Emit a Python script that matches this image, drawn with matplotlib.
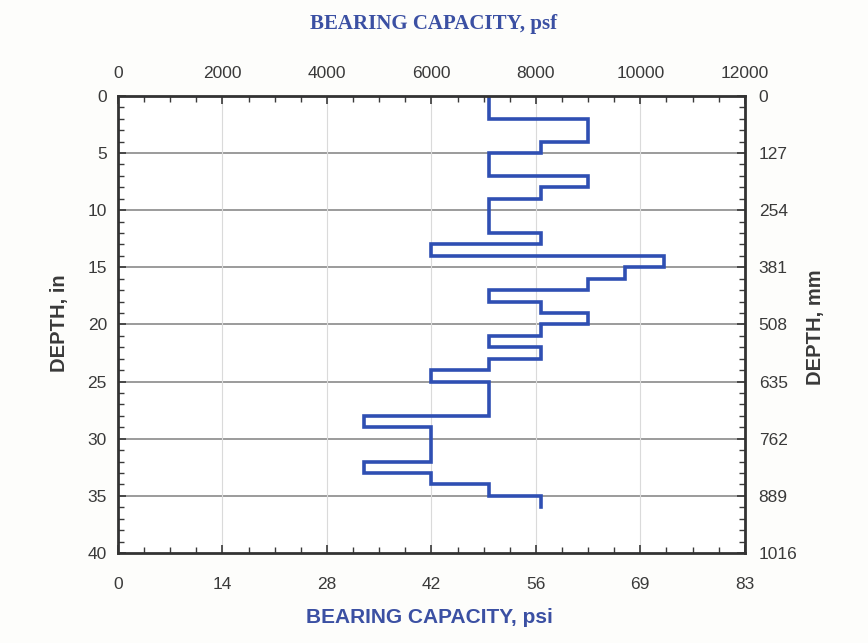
import numpy as np
import matplotlib
matplotlib.use("Agg")
import matplotlib.pyplot as plt
from matplotlib.ticker import MultipleLocator

# depth intervals (in) and bearing capacity (psf)
depth_top = [0, 2, 4, 5, 7, 8, 9, 12, 13, 14, 15, 16, 17, 18, 19, 20, 21, 22, 23, 24, 25, 28, 29, 32, 33, 34, 35]
depth_bot = [2, 4, 5, 7, 8, 9, 12, 13, 14, 15, 16, 17, 18, 19, 20, 21, 22, 23, 24, 25, 28, 29, 32, 33, 34, 35, 36]
capacity_psf = [7100, 9000, 8100, 7100, 9000, 8100, 7100, 8100, 6000, 10450, 9700, 9000, 7100, 8100,
                9000, 8100, 7100, 8100, 7100, 6000, 7100, 4700, 6000, 4700, 6000, 7100, 8100]

psf_ticks = [0, 2000, 4000, 6000, 8000, 10000, 12000]
psi_labels = ['0', '14', '28', '42', '56', '69', '83']
depth_ticks = [0, 5, 10, 15, 20, 25, 30, 35, 40]
mm_labels = ['0', '127', '254', '381', '508', '635', '762', '889', '1016']

blue = '#2f4fb3'
title_blue = '#3b50a3'
sans = ['Liberation Sans', 'DejaVu Sans']
txt = '#3a3a3a'

# step profile: each layer drawn as a vertical segment, joined horizontally
xs, ys = [], []
for top, bot, v in zip(depth_top, depth_bot, capacity_psf):
    xs += [v, v]
    ys += [top, bot]

fig = plt.figure(figsize=(8.68, 6.43), dpi=100)
fig.patch.set_facecolor('#fdfdfb')
ax = fig.add_axes([0.136, 0.140, 0.722, 0.711])

ax.plot(xs, ys, color=blue, linewidth=2.6, solid_joinstyle='miter')

ax.set_xlim(0, 12000)
ax.set_ylim(40, 0)

# grid
for d in depth_ticks[1:-1]:
    ax.axhline(d, color='#8a8a8a', linewidth=1.2, zorder=0)
for p in psf_ticks[1:-1]:
    ax.axvline(p, color='#dadada', linewidth=0.8, zorder=0)

# bottom: psi labels at psf positions
ax.set_xticks(psf_ticks)
ax.set_xticklabels(psi_labels)
ax.xaxis.set_minor_locator(MultipleLocator(500))
ax.set_yticks(depth_ticks)
ax.yaxis.set_minor_locator(MultipleLocator(1))

ax.tick_params(which='both', direction='in', top=True, right=True, colors=txt)
ax.tick_params(which='major', length=6, width=1.2, labelsize=12.5)
ax.tick_params(which='minor', length=4, width=1)
ax.tick_params(axis='x', pad=17)
ax.tick_params(axis='y', pad=8)
for lab in ax.get_xticklabels() + ax.get_yticklabels():
    lab.set_family(sans)
    lab.set_color(txt)

for sp in ax.spines.values():
    sp.set_linewidth(2)
    sp.set_color('#333333')

# top: psf
top = ax.secondary_xaxis('top')
top.set_xticks(psf_ticks)
top.tick_params(direction='in', length=0, labelsize=12.5, pad=11, colors=txt)
for lab in top.get_xticklabels():
    lab.set_family(sans)

# right: mm labels at inch positions
right = ax.secondary_yaxis('right')
right.set_yticks(depth_ticks)
right.set_yticklabels(mm_labels)
right.tick_params(direction='in', length=0, labelsize=12.5, pad=10, colors=txt)
for lab in right.get_yticklabels():
    lab.set_family(sans)

fig.text(0.5, 0.963, 'BEARING CAPACITY, psf', ha='center', va='center',
         fontsize=15, fontweight='bold', color=title_blue, family=['Liberation Serif', 'DejaVu Serif'])
fig.text(0.495, 0.040, 'BEARING CAPACITY, psi', ha='center', va='center',
         fontsize=15, fontweight='bold', color=title_blue, family=sans)
fig.text(0.068, 0.497, 'DEPTH, in', rotation=90, ha='center', va='center',
         fontsize=14.5, fontweight='bold', color=txt, family=sans)
fig.text(0.939, 0.491, 'DEPTH, mm', rotation=90, ha='center', va='center',
         fontsize=14.5, fontweight='bold', color=txt, family=sans)

fig.savefig('out.png', dpi=100, facecolor=fig.get_facecolor())
